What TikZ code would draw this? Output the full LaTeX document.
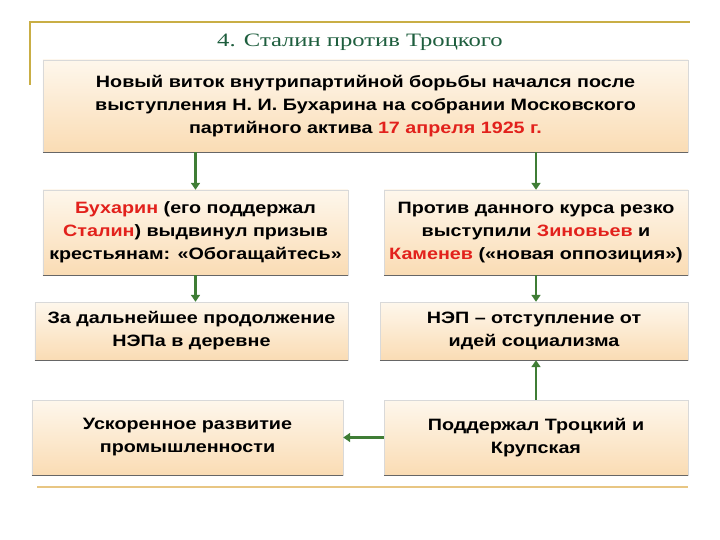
\documentclass[tikz,border=0pt]{standalone}
\usepackage{fontspec}
\setmainfont{Liberation Sans}[FakeStretch=1.2]
\newfontfamily\titlefont{Liberation Serif}[FakeStretch=1.3]
\usetikzlibrary{positioning,arrows.meta}

\definecolor{boxtop}{HTML}{FEF7EC}
\definecolor{boxbot}{HTML}{FADCB4}
\definecolor{arrgreen}{HTML}{3F7D35}
\definecolor{goldline}{HTML}{C9AE45}
\definecolor{titlegreen}{HTML}{1E5E3E}
\definecolor{hot}{HTML}{E2211C}

\tikzset{
  box/.style={draw=black!15, top color=boxtop, bottom color=boxbot,
    align=center, inner sep=0pt,
    font=\bfseries\fontsize{16.5}{23}\selectfont,
    append after command={(\tikzlastnode.south west) edge[draw=black!60, line width=1.2pt] (\tikzlastnode.south east)}},
  arr/.style={draw=arrgreen, line width=2.4pt, -{Triangle[length=7pt,width=9pt]}},
}
\newcommand{\hl}[1]{\textcolor{hot}{#1}}

\begin{document}
\begin{tikzpicture}[x=1bp, y=-1bp]
  \useasboundingbox (0,0) rectangle (720,540);

  % frame lines
  \draw[goldline, line width=1.6pt] (30,85) -- (30,22) -- (690,22);
  \draw[goldline!70!orange!60, line width=2.4pt] (37,487) -- (688,487);

  \node[font=\titlefont\fontsize{19}{24}\selectfont, text=titlegreen] (title) at (360,42)
    {4. Сталин против Троцкого};

  % boxes
  \node[box, minimum width=645bp, minimum height=92bp] (top) at (365.5,106)
    {Новый виток внутрипартийной борьбы начался после\\
     выступления Н. И. Бухарина на собрании Московского\\
     партийного актива \hl{17 апреля 1925 г.}};

  \node[box, minimum width=305bp, minimum height=85bp] (buch) at (195.5,232.5)
    {\hl{Бухарин} (его поддержал\\
     \hl{Сталин}) выдвинул призыв\\
     крестьянам: «Обогащайтесь»};
  \node[box, minimum width=304bp, minimum height=85bp] (opp) at (536,232.5)
    {Против данного курса резко\\
     выступили \hl{Зиновьев} и\\
     \hl{Каменев} («новая оппозиция»)};

  \node[box, minimum width=313bp, minimum height=58bp] (nep) at (191.5,331)
    {За дальнейшее продолжение\\ НЭПа в деревне};
  \node[box, minimum width=308bp, minimum height=58bp] (retreat) at (534,331)
    {НЭП – отступление от\\ идей социализма};

  \node[box, minimum width=311bp, minimum height=75bp] (industry) at (187.5,437.5)
    {Ускоренное развитие\\ промышленности};
  \node[box, minimum width=304bp, minimum height=75bp] (trotsky) at (536,437.5)
    {Поддержал Троцкий и\\ Крупская};

  % arrows
  \draw[arr] (top.south -| buch.north) -- (buch.north);
  \draw[arr] (top.south -| opp.north) -- (opp.north);
  \draw[arr] (buch.south) -- (buch.south |- nep.north);
  \draw[arr] (opp.south) -- (opp.south |- retreat.north);
  \draw[arr] (trotsky.north) -- (trotsky.north |- retreat.south);
  \draw[arr] (trotsky.west) -- (industry.east);
\end{tikzpicture}
\end{document}
